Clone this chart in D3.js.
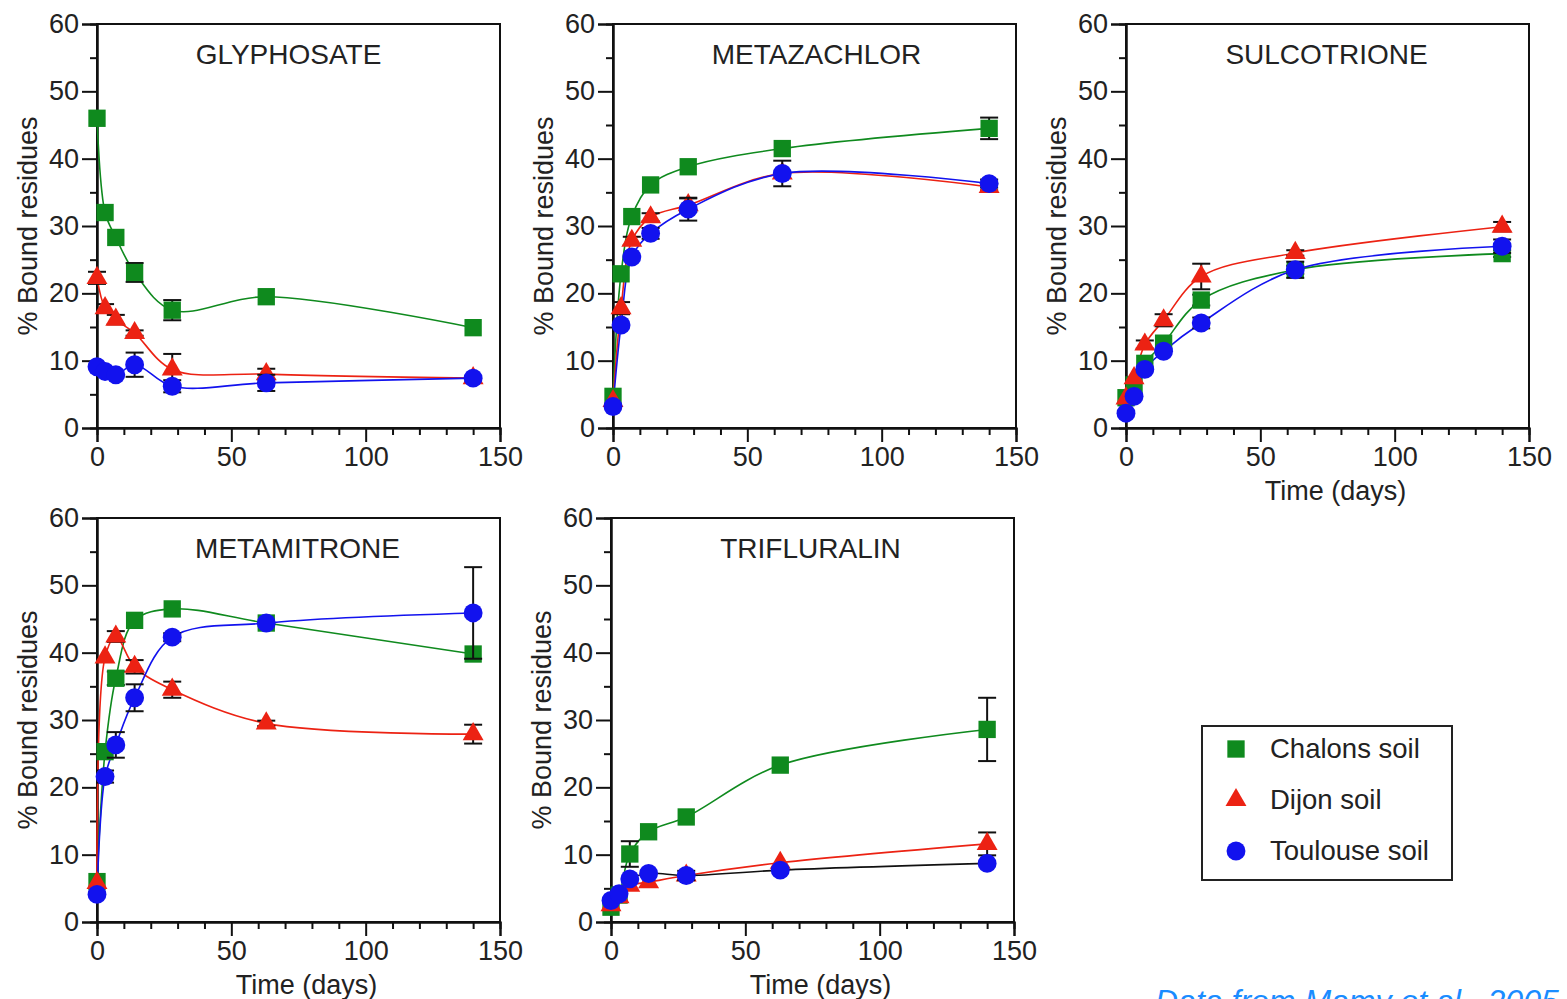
<!DOCTYPE html>
<html>
<head>
<meta charset="utf-8">
<script src="https://cdn.jsdelivr.net/npm/d3@7"></script>
<style>
  body { margin: 0; background: #fff; }
  text { font-family: "Liberation Sans", Arial, Helvetica, sans-serif; fill: #222; }
</style>
</head>
<body>
<script>
// Sampling times (days) shared by every panel
var days = [0, 3, 7, 14, 28, 63, 140];

var soils = ["Chalons soil", "Dijon soil", "Toulouse soil"];

// Tick values
var xMajorTicks = [0, 50, 100, 150];
var xMinorTicks = [10, 20, 30, 40, 60, 70, 80, 90, 110, 120, 130, 140];
var yMajorTicks = [0, 10, 20, 30, 40, 50, 60];
var yMinorTicks = [5, 15, 25, 35, 45, 55];

// % bound residues (err = half error bar, 0 = none)
var glyphosateChalons = [46, 32, 28.3, 23.1, 17.5, 19.5, 14.9];
var glyphosateChalonsErr = [0, 0, 0, 1.4, 1.5, 0, 0];
var glyphosateDijon = [22.3, 17.8, 16.1, 14.1, 8.7, 8.0, 7.4];
var glyphosateDijonErr = [0.9, 0.6, 0.7, 0.4, 2.3, 0.8, 0];
var glyphosateToulouse = [9.1, 8.4, 7.9, 9.4, 6.2, 6.7, 7.4];
var glyphosateToulouseErr = [0, 0, 0, 1.8, 0.9, 1.2, 0];

var metazachlorChalons = [4.7, 22.9, 31.4, 36.1, 38.8, 41.5, 44.5];
var metazachlorChalonsErr = [0, 0, 0, 0, 0, 0, 1.6];
var metazachlorDijon = [4.0, 17.8, 27.8, 31.3, 33.1, 37.8, 35.8];
var metazachlorDijonErr = [0, 0.9, 0.6, 0.6, 1.0, 0, 0.5];
var metazachlorToulouse = [3.2, 15.3, 25.4, 28.9, 32.5, 37.8, 36.3];
var metazachlorToulouseErr = [0, 0, 0, 0.8, 1.7, 1.9, 0.6];

var sulcotrioneChalons = [4.5, 6.4, 9.6, 12.6, 19.0, 23.5, 25.9];
var sulcotrioneChalonsErr = [0, 0, 0, 0, 0.8, 0.6, 0.5];
var sulcotrioneDijon = [4.4, 7.4, 12.4, 16.0, 22.5, 26.0, 29.9];
var sulcotrioneDijonErr = [0, 0, 0.6, 0.9, 1.9, 0.4, 0.7];
var sulcotrioneToulouse = [2.2, 4.7, 8.7, 11.4, 15.6, 23.5, 27.0];
var sulcotrioneToulouseErr = [0, 0, 0, 0, 0.8, 1.2, 1.0];

var metamitroneChalons = [6.0, 25.3, 36.2, 44.8, 46.5, 44.4, 39.8];
var metamitroneChalonsErr = [0, 0, 1.0, 0, 0, 0, 0];
var metamitroneDijon = [5.8, 39.3, 42.4, 37.9, 34.5, 29.5, 27.9];
var metamitroneDijonErr = [0, 0, 0.8, 1.0, 1.2, 0.4, 1.4];
var metamitroneToulouse = [4.1, 21.6, 26.3, 33.3, 42.3, 44.4, 45.9];
var metamitroneToulouseErr = [0, 0.9, 1.9, 2.0, 0.6, 0, 6.8];

var trifluralinChalons = [2.2, 4.0, 10.1, 13.4, 15.6, 23.3, 28.6];
var trifluralinChalonsErr = [0, 0, 1.9, 0, 0, 0, 4.7];
var trifluralinDijon = [2.5, 3.7, 5.4, 5.9, 6.9, 8.8, 11.6];
var trifluralinDijonErr = [0, 0, 0, 0, 0, 0, 1.7];
var trifluralinToulouse = [3.2, 4.2, 6.4, 7.2, 6.9, 7.7, 8.7];
var trifluralinToulouseErr = [0, 0, 0, 0, 0.7, 0, 0];

// Styling
var markerColors = ["#0f8a1e", "#ec2213", "#1212ee"];
var symbols = [d3.symbolSquare, d3.symbolTriangle, d3.symbolCircle];
var symbolSizes = [300, 190, 280];

var plotW = 403;
var plotH = 404;

var panels = [
    { name: "GLYPHOSATE", left: 97, top: 24, xTitle: false, titleDx: -10,
      series: [glyphosateChalons, glyphosateDijon, glyphosateToulouse],
      errors: [glyphosateChalonsErr, glyphosateDijonErr, glyphosateToulouseErr],
      lineColors: markerColors },
    { name: "METAZACHLOR", left: 613, top: 24, xTitle: false, titleDx: 2,
      series: [metazachlorChalons, metazachlorDijon, metazachlorToulouse],
      errors: [metazachlorChalonsErr, metazachlorDijonErr, metazachlorToulouseErr],
      lineColors: markerColors },
    { name: "SULCOTRIONE", left: 1126, top: 24, xTitle: true, titleDx: -1,
      series: [sulcotrioneChalons, sulcotrioneDijon, sulcotrioneToulouse],
      errors: [sulcotrioneChalonsErr, sulcotrioneDijonErr, sulcotrioneToulouseErr],
      lineColors: markerColors },
    { name: "METAMITRONE", left: 97, top: 518, xTitle: true, titleDx: -1,
      series: [metamitroneChalons, metamitroneDijon, metamitroneToulouse],
      errors: [metamitroneChalonsErr, metamitroneDijonErr, metamitroneToulouseErr],
      lineColors: markerColors },
    { name: "TRIFLURALIN", left: 611, top: 518, xTitle: true, titleDx: -2,
      series: [trifluralinChalons, trifluralinDijon, trifluralinToulouse],
      errors: [trifluralinChalonsErr, trifluralinDijonErr, trifluralinToulouseErr],
      lineColors: [markerColors[0], markerColors[1], "#111"] }
];

var svg = d3.select("body")
    .append("svg")
    .attr("width", 1567)
    .attr("height", 999);

var x = d3.scaleLinear().domain([0, 150]).range([0, plotW]);
var y = d3.scaleLinear().domain([0, 60]).range([plotH, 0]);

function styleAxis(sel) {
    sel.selectAll("path, line").attr("stroke", "#111").attr("stroke-width", 2);
    sel.selectAll("text").style("font-size", "27px").attr("fill", "#222");
}

panels.forEach(function(p) {
    var g = svg.append("g")
        .attr("transform", "translate(" + p.left + "," + p.top + ")");

    // Frame
    g.append("rect")
        .attr("width", plotW)
        .attr("height", plotH)
        .attr("fill", "none")
        .attr("stroke", "#111")
        .attr("stroke-width", 2);

    // Minor ticks
    g.append("g")
        .call(d3.axisLeft(y).tickValues(yMinorTicks).tickSize(7).tickFormat(""))
        .call(styleAxis);
    g.append("g")
        .attr("transform", "translate(0," + plotH + ")")
        .call(d3.axisBottom(x).tickValues(xMinorTicks).tickSize(7).tickFormat(""))
        .call(styleAxis);

    // Major ticks with labels
    g.append("g")
        .call(d3.axisLeft(y).tickValues(yMajorTicks).tickSize(15).tickPadding(3))
        .call(styleAxis);
    g.append("g")
        .attr("transform", "translate(0," + plotH + ")")
        .call(d3.axisBottom(x).tickValues(xMajorTicks).tickSize(14).tickPadding(5))
        .call(styleAxis);

    // Panel title
    g.append("text")
        .attr("x", plotW / 2 + p.titleDx)
        .attr("y", 40)
        .attr("text-anchor", "middle")
        .style("font-size", "28px")
        .text(p.name);

    // Y axis title
    g.append("text")
        .attr("transform", "translate(-60," + (plotH / 2) + ") rotate(-90)")
        .attr("text-anchor", "middle")
        .style("font-size", "27px")
        .text("% Bound residues");

    if (p.xTitle) {
        g.append("text")
            .attr("x", plotW / 2 + 8)
            .attr("y", plotH + 72)
            .attr("text-anchor", "middle")
            .style("font-size", "27px")
            .text("Time (days)");
    }

    var line = d3.line()
        .x(function(d, i) { return x(days[i]); })
        .y(function(d) { return y(d); })
        .curve(d3.curveCatmullRom.alpha(0.5));

    // Fitted lines
    p.series.forEach(function(vals, s) {
        g.append("path")
            .datum(vals)
            .attr("d", line)
            .attr("fill", "none")
            .attr("stroke", p.lineColors[s])
            .attr("stroke-width", 1.6);
    });

    // Error bars then markers, one soil at a time
    p.series.forEach(function(vals, s) {
        var errs = p.errors[s];
        var withErr = vals.map(function(v, i) { return { t: days[i], v: v, e: errs[i] }; })
            .filter(function(d) { return d.e > 0; });

        var eb = g.append("g").attr("stroke", "#111").attr("stroke-width", 2);
        eb.selectAll("line.bar")
            .data(withErr)
            .enter()
            .append("line")
            .attr("x1", function(d) { return x(d.t); })
            .attr("x2", function(d) { return x(d.t); })
            .attr("y1", function(d) { return y(d.v - d.e); })
            .attr("y2", function(d) { return y(d.v + d.e); });
        eb.selectAll("line.capTop")
            .data(withErr)
            .enter()
            .append("line")
            .attr("x1", function(d) { return x(d.t) - 9; })
            .attr("x2", function(d) { return x(d.t) + 9; })
            .attr("y1", function(d) { return y(d.v + d.e); })
            .attr("y2", function(d) { return y(d.v + d.e); });
        eb.selectAll("line.capBottom")
            .data(withErr)
            .enter()
            .append("line")
            .attr("x1", function(d) { return x(d.t) - 9; })
            .attr("x2", function(d) { return x(d.t) + 9; })
            .attr("y1", function(d) { return y(d.v - d.e); })
            .attr("y2", function(d) { return y(d.v - d.e); });

        g.append("g")
            .selectAll("path")
            .data(vals)
            .enter()
            .append("path")
            .attr("d", d3.symbol().type(symbols[s]).size(symbolSizes[s]))
            .attr("transform", function(d, i) {
                return "translate(" + x(days[i]) + "," + y(d) + ")";
            })
            .attr("fill", markerColors[s]);
    });
});

// Legend
var legend = svg.append("g").attr("transform", "translate(1202,726)");
legend.append("rect")
    .attr("width", 250)
    .attr("height", 154)
    .attr("fill", "#fff")
    .attr("stroke", "#222")
    .attr("stroke-width", 2);

soils.forEach(function(name, s) {
    var row = legend.append("g").attr("transform", "translate(0," + (23 + s * 51) + ")");
    row.append("path")
        .attr("d", d3.symbol().type(symbols[s]).size(symbolSizes[s]))
        .attr("transform", "translate(34,0)")
        .attr("fill", markerColors[s]);
    row.append("text")
        .attr("x", 68)
        .attr("y", 9)
        .style("font-size", "27.5px")
        .text(name);
});

// Source note (cut by the bottom edge as in the original)
svg.append("text")
    .attr("x", 1155)
    .attr("y", 1012)
    .style("font-size", "32px")
    .style("font-style", "italic")
    .style("fill", "#1a8cff")
    .text("Data from Mamy et al., 2005");
</script>
</body>
</html>
